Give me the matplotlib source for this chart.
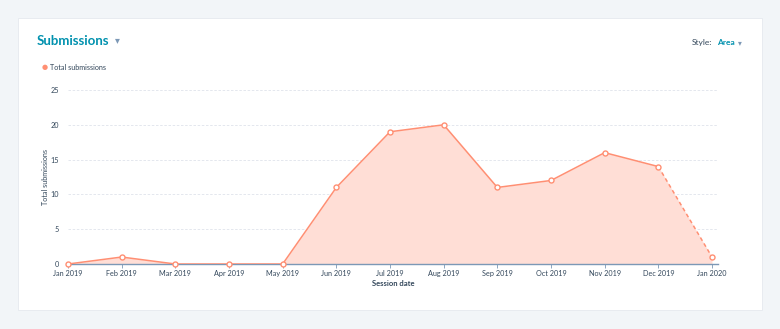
import matplotlib
matplotlib.use("Agg")
import matplotlib.pyplot as plt
from matplotlib.patches import Rectangle

plt.rcParams['font.family'] = ['Lato', 'DejaVu Sans']

months = ["Jan 2019", "Feb 2019", "Mar 2019", "Apr 2019", "May 2019", "Jun 2019",
          "Jul 2019", "Aug 2019", "Sep 2019", "Oct 2019", "Nov 2019", "Dec 2019", "Jan 2020"]
submissions = [0, 1, 0, 0, 0, 11, 19, 20, 11, 12, 16, 14, 1]
y_ticks = [0, 5, 10, 15, 20, 25]

LINE = "#ff8f73"
FILL = "#ffded6"
TEAL = "#0091ae"
GRAY = "#33475b"

W, H = 780, 329
fig = plt.figure(figsize=(W / 100, H / 100), dpi=100)
fig.patch.set_facecolor("#f2f5f8")

# white card (background axes)
bg = fig.add_axes([0, 0, 1, 1], zorder=-5)
bg.set_xlim(0, W)
bg.set_ylim(H, 0)
bg.axis("off")
bg.add_patch(Rectangle((18, 18), 762 - 18, 310 - 18, facecolor="white", edgecolor="#e5e9ef",
                       linewidth=0.6))

ax_left, ax_right = 68, 718
ax_top, ax_bottom = 90, 264
ax = fig.add_axes([ax_left / W, 1 - ax_bottom / H, (ax_right - ax_left) / W, (ax_bottom - ax_top) / H],
                  zorder=2)
ax.set_facecolor("none")

x = list(range(len(months)))
ax.fill_between(x, submissions, 0, color=FILL, linewidth=0, zorder=1)
ax.plot(x[:-1], submissions[:-1], color=LINE, linewidth=1.1, zorder=3)
ax.plot(x[-2:], submissions[-2:], color=LINE, linewidth=1.1, linestyle=(0, (2.5, 2)), zorder=3)
ax.plot(x, submissions, linestyle="none", marker="o", markersize=3.6,
        markerfacecolor="white", markeredgecolor=LINE, markeredgewidth=1.0, zorder=4, clip_on=False)

ax.set_xlim(0, (ax_right - ax_left) / ((712 - 68) / 12))
ax.set_ylim(0, 25)
ax.set_yticks(y_ticks)
ax.set_yticklabels([str(v) for v in y_ticks])
ax.set_xticks(x)
ax.set_xticklabels(months)

for s in ["top", "right", "left"]:
    ax.spines[s].set_visible(False)
ax.spines["bottom"].set_color("#7c98b6")
ax.spines["bottom"].set_linewidth(1.0)
ax.spines["bottom"].set_zorder(2)

ax.grid(axis="y", color="#dfe3eb", linestyle=(0, (3, 2)), linewidth=0.6)
ax.set_axisbelow(True)

ax.tick_params(axis="y", length=0, labelsize=5.2, labelcolor=GRAY, pad=6.5)
ax.tick_params(axis="x", length=3, width=0.6, color="#7c98b6", labelsize=5.2,
               labelcolor=GRAY, pad=1.2)

ax.set_ylabel("Total submissions", fontsize=5.2, color=GRAY, labelpad=1)
ax.set_xlabel("Session date", fontsize=5.5, color=GRAY, fontweight="bold", labelpad=2.5)

# title and controls
fig.text(37 / W, 1 - 41 / H, "Submissions", fontsize=9.5, color=TEAL, fontweight="bold",
         va="center", ha="left")
fig.text(115 / W, 1 - 40.5 / H, "\u25BE", fontsize=7, color="#7c98b6", va="center", ha="left",
         family=["DejaVu Sans"])

# legend
fig.text(45 / W, 1 - 67.5 / H, "\u25CF", fontsize=5, color=LINE, va="center", ha="center",
         family=["DejaVu Sans"])
fig.text(50 / W, 1 - 67.5 / H, "Total submissions", fontsize=5.2, color=GRAY,
         va="center", ha="left")

fig.text(692 / W, 1 - 42.5 / H, "Style:", fontsize=6, color=GRAY, va="center", ha="left")
fig.text(717 / W, 1 - 42.5 / H, "Area", fontsize=6, color=TEAL, fontweight="bold",
         va="center", ha="left")
fig.text(737.5 / W, 1 - 42.5 / H, "\u25BE", fontsize=5.5, color="#7c98b6", va="center", ha="left",
         family=["DejaVu Sans"])

fig.savefig("out.png", dpi=100, facecolor=fig.get_facecolor())
